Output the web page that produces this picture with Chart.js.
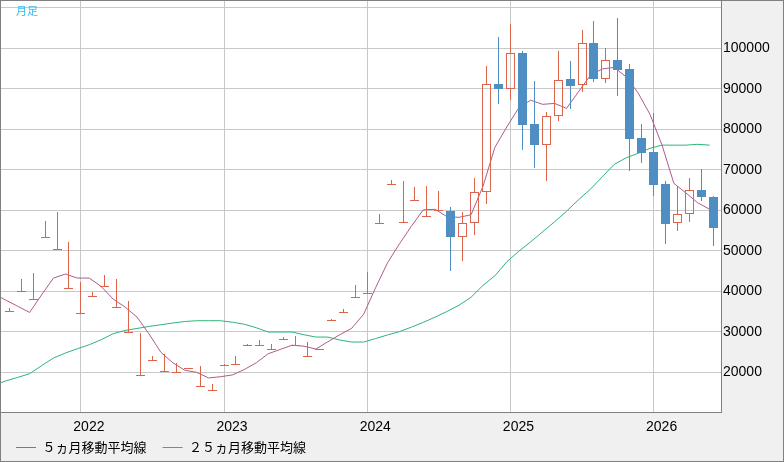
<!DOCTYPE html>
<html>
<head>
<meta charset="utf-8">
<script src="https://cdn.jsdelivr.net/npm/chart.js@4.4.1/dist/chart.umd.min.js"></script>
<style>
  html, body { margin: 0; padding: 0; background: #f0f0f0; }
  #wrap { width: 784px; height: 462px; }
</style>
</head>
<body>
<div id="wrap"><canvas id="priceChart" width="784" height="462"></canvas></div>
<script>
// Monthly candles. The first month only feeds the moving averages (off-screen).
const months = [
  '2021-06', '2021-07', '2021-08', '2021-09', '2021-10', '2021-11', '2021-12',
  '2022-01', '2022-02', '2022-03', '2022-04', '2022-05', '2022-06', '2022-07', '2022-08', '2022-09', '2022-10', '2022-11', '2022-12',
  '2023-01', '2023-02', '2023-03', '2023-04', '2023-05', '2023-06', '2023-07', '2023-08', '2023-09', '2023-10', '2023-11', '2023-12',
  '2024-01', '2024-02', '2024-03', '2024-04', '2024-05', '2024-06', '2024-07', '2024-08', '2024-09', '2024-10', '2024-11', '2024-12',
  '2025-01', '2025-02', '2025-03', '2025-04', '2025-05', '2025-06', '2025-07', '2025-08', '2025-09', '2025-10', '2025-11', '2025-12',
  '2026-01', '2026-02', '2026-03', '2026-04', '2026-05', '2026-06'
];
const yearLabels = ['2022', '2023', '2024', '2025', '2026'];

const openPrices = [
  null, 35000, 39900, 37800, 53100, 50200, 40500,
  34400, 38600, 41000, 35900, 29700, 19100, 22800, 20100, 19800, 20800, 16400, 15400,
  21500, 21800, 26400, 26600, 25500, 28000, 26400, 23800, 25500, 32700, 34700, 38400,
  39400, 56700, 66300, 56900, 62300, 58300, 59800, 59860, 53280, 56830, 64480, 91190,
  90030, 98840, 81330, 76220, 83220, 92430, 90870, 101310, 92500, 97110, 94890, 77950,
  74420, 66520, 56830, 59050, 65040, 63320
];
const highPrices = [
  null, 35900, 43000, 44600, 57400, 59600, 52100,
  42300, 39800, 44000, 43000, 37700, 29700, 24100, 24500, 22300, 21000, 21600, 17200,
  22000, 23900, 27000, 28000, 27000, 28800, 28900, 27500, 25800, 33200, 35700, 41600,
  44700, 59100, 67500, 67300, 65800, 66000, 64800, 60850, 59620, 68000, 95630, 102860,
  106000, 99330, 91930, 84290, 99330, 96870, 104520, 106740, 100000, 107550, 96130, 81330,
  84040, 67260, 66100, 68000, 70220, 63560
];
const lowPrices = [
  null, 35000, 39900, 37800, 53100, 50200, 40500,
  34400, 38600, 41000, 35900, 29700, 19100, 22800, 20100, 19800, 20800, 16400, 15400,
  21500, 21800, 26400, 26600, 25500, 28000, 26400, 23800, 25500, 32700, 34700, 38400,
  39400, 56700, 66300, 56900, 62300, 58300, 59800, 44890, 47450, 53870, 61520, 86260,
  87320, 74910, 70540, 67260, 82140, 85100, 89220, 91690, 91510, 88230, 69730, 71780,
  63640, 51550, 55000, 56980, 62260, 51230
];
const closePrices = [
  null, 35000, 39900, 37800, 53100, 50200, 40500,
  34400, 38600, 41000, 35900, 29700, 19100, 22800, 20100, 19800, 20800, 16400, 15400,
  21500, 21800, 26400, 26600, 25500, 28000, 26400, 23800, 25500, 32700, 34700, 38400,
  39400, 56700, 66300, 56900, 62300, 58300, 59800, 53280, 56830, 64480, 91120, 90030,
  98770, 81150, 76220, 83220, 92110, 90770, 101230, 92500, 97040, 94720, 77700, 74170,
  66350, 56730, 59050, 64970, 63240, 55740
];

// moving averages
const ma5 = [
  39400, 37830, 36300, 34770, 39090, 43260, 44250,
  43260, 43260, 41190, 38080, 36110, 33640, 29520, 24950, 22360, 20510, 19990, 18610,
  18910, 19350, 20690, 22360, 24590, 25630, 26690, 26440, 25740, 27550, 29270, 30870,
  34330, 40870, 47030, 51720, 56040, 60110, 60230, 58380, 58260, 58880, 65910, 75530,
  80580, 85270, 87170, 86140, 86380, 85150, 89220, 93290, 94890, 95260, 92920, 88970,
  83670, 76140, 66650, 64300, 61840, 60230
];
const ma25 = [
  16810, 17870, 18740, 19650, 21620, 23520, 24760,
  25820, 26810, 28040, 29520, 30330, 30820, 31320, 31740, 32160, 32530, 32730, 32730,
  32730, 32360, 31870, 31000, 29940, 29940, 29940, 29270, 28700, 28700, 27960, 27470,
  27470, 28330, 29220, 30040, 31150, 32330, 33640, 35040, 36570, 38520, 41460, 43830,
  47280, 49870, 52210, 54680, 57150, 59740, 62580, 65170, 68250, 71330, 72940, 74050,
  75280, 76070, 76070, 76070, 76270, 76070
];

const priceTicks = [20000, 30000, 40000, 50000, 60000, 70000, 80000, 90000, 100000, 110000];
const legendNames = ['５ヵ月移動平均線', '２５ヵ月移動平均線'];
const chartLabel = '月足';

// styles
const UP_COLOR = '#dc644b';
const DOWN_COLOR = '#4e8ec2';
const MA5_COLOR = '#b05c8c';
const MA25_COLOR = '#2db47a';
const GRID_COLOR = '#c8c8c8';
const MA_SHIFT = -0.3; // averages sit a little left of the candle centres
const TICK_FONT = { family: 'Liberation Sans', size: 14 };

const candles = months.map((m, i) => ({
  i, o: openPrices[i], h: highPrices[i], l: lowPrices[i], c: closePrices[i]
})).filter(d => d.o !== null);

const bodyData = candles.map(d => ({ x: d.i, y: [d.o, d.c], up: d.c >= d.o }));
const upperWick = candles.map(d => ({ x: d.i, y: [Math.max(d.o, d.c), d.h], up: d.c >= d.o }));
const lowerWick = candles.map(d => ({ x: d.i, y: [d.l, Math.min(d.o, d.c)], up: d.c >= d.o }));

const candleColor = ctx => (ctx.raw && ctx.raw.up ? UP_COLOR : DOWN_COLOR);

// keep bars on whole pixels so 1px wicks stay sharp
const snapBars = {
  id: 'snapBars',
  afterDatasetsUpdate(chart) {
    chart.getSortedVisibleDatasetMetas().forEach(meta => {
      if (meta.type !== 'bar') return;
      meta.data.forEach(bar => {
        bar.x = Math.floor(bar.x) + 0.5;
        bar.y = Math.round(bar.y);
        bar.base = Math.round(bar.base);
      });
    });
  }
};

const framePlugin = {
  id: 'frame',
  afterLayout(chart) {
    // the year labels hang below the short x axis box; don't let it clip them
    chart.scales.x.bottom = chart.height;
  },
  beforeDraw(chart) {
    const { ctx, chartArea: a } = chart;
    ctx.save();
    ctx.fillStyle = '#ffffff';
    ctx.fillRect(a.left, a.top, a.right - a.left, a.bottom - a.top);
    ctx.restore();
  },
  afterDraw(chart) {
    const { ctx, chartArea: a, width, height } = chart;
    ctx.save();
    ctx.strokeStyle = '#808080';
    ctx.lineWidth = 1;
    ctx.strokeRect(a.left + 0.5, a.top + 0.5, a.right - a.left, a.bottom - a.top);
    ctx.strokeRect(0.5, 0.5, width - 1, height - 1);
    ctx.font = '11px "Noto Sans CJK JP"';
    ctx.fillStyle = '#38bcee';
    ctx.textBaseline = 'alphabetic';
    ctx.fillText(chartLabel, a.left + 16, a.top + 15);
    ctx.restore();
  }
};

const noLabelPadding = scale => {
  scale.paddingTop = 0;
  scale.paddingBottom = 0;
  scale.paddingLeft = 0;
  scale.paddingRight = 0;
};

new Chart(document.getElementById('priceChart'), {
  type: 'bar',
  data: {
    datasets: [
      {
        type: 'line',
        label: legendNames[0],
        data: ma5.map((v, i) => ({ x: i + MA_SHIFT, y: v })),
        borderColor: MA5_COLOR,
        backgroundColor: MA5_COLOR,
        borderWidth: 1,
        pointRadius: 0,
        tension: 0,
        order: 3
      },
      {
        type: 'line',
        label: legendNames[1],
        data: ma25.map((v, i) => ({ x: i + MA_SHIFT, y: v })),
        borderColor: MA25_COLOR,
        backgroundColor: MA25_COLOR,
        borderWidth: 1,
        pointRadius: 0,
        tension: 0,
        order: 3
      },
      {
        label: 'upper',
        data: upperWick,
        backgroundColor: candleColor,
        borderWidth: 0,
        barThickness: 1,
        inflateAmount: 0,
        grouped: false,
        order: 2
      },
      {
        label: 'lower',
        data: lowerWick,
        backgroundColor: candleColor,
        borderWidth: 0,
        barThickness: 1,
        inflateAmount: 0,
        grouped: false,
        order: 2
      },
      {
        label: 'body',
        data: bodyData,
        backgroundColor: ctx => (ctx.raw && ctx.raw.up ? 'rgba(0,0,0,0)' : DOWN_COLOR),
        borderColor: candleColor,
        borderWidth: 1,
        borderSkipped: false,
        barThickness: 9,
        minBarLength: 1,
        inflateAmount: 0,
        grouped: false,
        order: 1
      }
    ]
  },
  options: {
    responsive: false,
    animation: false,
    events: [],
    layout: { padding: 0 },
    scales: {
      x: {
        type: 'linear',
        min: 0.22,
        max: months.length - 1 + 0.65,
        offset: false,
        afterFit: scale => { scale.height = 13; noLabelPadding(scale); },
        afterBuildTicks: scale => {
          scale.ticks = yearLabels.map(y => ({ value: months.indexOf(y + '-01') }));
        },
        grid: { color: GRID_COLOR, drawTicks: false, offset: false },
        border: { display: false },
        ticks: {
          padding: 7,
          labelOffset: 8,
          autoSkip: false,
          maxRotation: 0,
          color: '#000',
          font: TICK_FONT,
          callback: v => months[v].slice(0, 4)
        }
      },
      y: {
        type: 'linear',
        position: 'right',
        min: 10200,
        max: 111900,
        afterFit: scale => { scale.width = 63; noLabelPadding(scale); },
        afterBuildTicks: scale => {
          scale.ticks = priceTicks.map(v => ({ value: v }));
        },
        grid: { color: GRID_COLOR, drawTicks: false },
        border: { display: false },
        ticks: {
          padding: 2,
          color: '#000',
          font: TICK_FONT,
          callback: v => (v > 100000 ? '' : String(v))
        }
      }
    },
    plugins: {
      tooltip: { enabled: false },
      legend: {
        position: 'bottom',
        align: 'start',
        maxHeight: 37,
        labels: {
          filter: item => item.datasetIndex < 2,
          usePointStyle: true,
          pointStyle: 'line',
          pointStyleWidth: 20,
          padding: 16,
          color: '#000',
          font: { family: '"Noto Sans CJK JP"', size: 13 }
        }
      }
    }
  },
  plugins: [snapBars, framePlugin]
});
</script>
</body>
</html>
